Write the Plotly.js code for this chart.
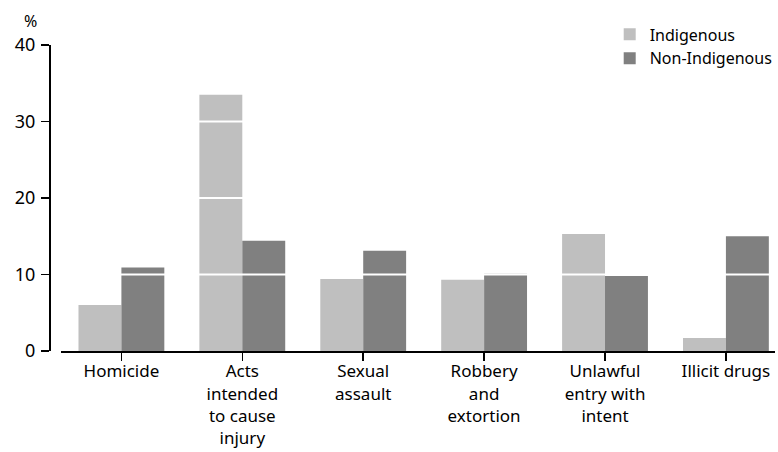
<!DOCTYPE html>
<html>
<head>
<meta charset="utf-8">
<script src="https://cdn.plot.ly/plotly-3.0.1.min.js"></script>
<style>html,body{margin:0;padding:0;background:#fff;}#chart{width:778px;height:452px;}</style>
</head>
<body>
<div id="chart"></div>
<script>
const categories = [
  "Homicide",
  "Acts<br>intended<br>to cause<br>injury",
  "Sexual<br>assault",
  "Robbery<br>and<br>extortion",
  "Unlawful<br>entry with<br>intent",
  "Illicit drugs"
];
const indigenous = [6.0, 33.5, 9.4, 9.3, 15.3, 1.7];
const nonIndigenous = [10.9, 14.4, 13.1, 10.1, 9.8, 15.0];
const yTicks = [0, 10, 20, 30, 40];

const FONT = "Noto Sans, Liberation Sans, Arial, sans-serif";
const xStart = 11 / 728;

const traces = [
  {type: "bar", name: "Indigenous", x: categories, y: indigenous,
   marker: {color: "#bfbfbf"}, hoverinfo: "skip"},
  {type: "bar", name: "Non-Indigenous", x: categories, y: nonIndigenous,
   marker: {color: "#808080"}, hoverinfo: "skip"}
];

const gridShapes = yTicks.filter(v => v > 0 && v < 40).map(v => ({
  type: "line", xref: "paper", yref: "y", x0: xStart, x1: 1, y0: v, y1: v,
  line: {color: "#ffffff", width: 2}, layer: "above"
}));

const layout = {
  width: 778, height: 452,
  margin: {l: 50, r: 0, t: 45, b: 101, pad: 0},
  paper_bgcolor: "#ffffff", plot_bgcolor: "#ffffff",
  font: {family: FONT, size: 17, color: "#000000"},
  barmode: "group", bargap: 0.29, bargroupgap: 0,
  showlegend: true,
  legend: {x: 0.772, y: 1.09, xanchor: "left", yanchor: "top",
           font: {family: FONT, size: 16, color: "#000"},
           bgcolor: "rgba(0,0,0,0)", tracegroupgap: 0, itemwidth: 30},
  xaxis: {
    domain: [xStart, 1], range: [-0.5, 5.406], type: "category",
    showline: true, linecolor: "#000", linewidth: 2,
    ticks: "outside", ticklen: 8, tickwidth: 1.5, tickcolor: "#000",
    ticklabelstandoff: -4,
    showgrid: false, zeroline: false, fixedrange: true,
    tickfont: {family: FONT, size: 17, color: "#000"}
  },
  yaxis: {
    range: [0, 40], tickvals: yTicks, ticktext: yTicks.map(String),
    anchor: "free", position: 0,
    showline: true, linecolor: "#000", linewidth: 2,
    ticks: "outside", ticklen: 8, tickwidth: 1.5, tickcolor: "#000",
    ticklabelstandoff: 2,
    showgrid: false, zeroline: false, fixedrange: true,
    tickfont: {family: FONT, size: 18, color: "#000"}
  },
  shapes: gridShapes,
  annotations: [
    {text: "%", xref: "paper", yref: "paper", x: -0.027, y: 1.0, xanchor: "center", yanchor: "bottom",
     yshift: 11, showarrow: false, font: {family: FONT, size: 16, color: "#000"}}
  ]
};

Plotly.newPlot("chart", traces, layout, {displayModeBar: false, staticPlot: true});
</script>
</body>
</html>
